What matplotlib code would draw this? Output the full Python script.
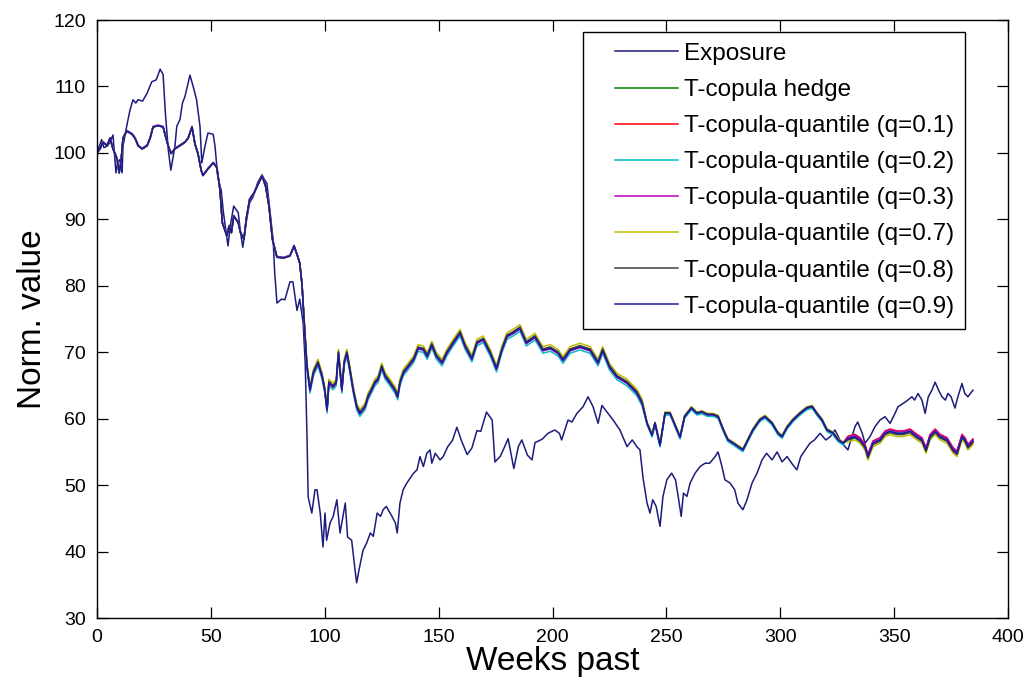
import numpy as np
import matplotlib
matplotlib.use("Agg")
import matplotlib.pyplot as plt
from matplotlib.lines import Line2D
from matplotlib.legend_handler import HandlerLine2D

plt.rcParams['font.family'] = ['Liberation Sans', 'DejaVu Sans']

# exposure (week, normalised value)
exp_wk = [0, 2, 3, 4.4, 5.5, 7, 8.3, 9, 10, 11, 11.4, 13, 14.5, 15.8, 17, 18, 20, 22, 24, 26,
          27.7, 29, 30, 31.3, 32.4, 34.2, 35, 36.4, 37.5, 38.6, 40.8, 42.2, 43.7, 45.2, 46, 47.4,
          48.7, 51, 51.8, 53, 54.5, 55.5, 56.5, 57.5, 58.5, 60, 61, 62, 63, 64, 65.7, 67, 68.5,
          70.5, 72.4, 73.5, 74.6, 76, 77.3, 78, 79, 81, 82.5, 84.7, 86, 87.8, 89, 90.5, 91.4,
          92.2, 92.7, 94.3, 95.7, 96.6, 98, 99.2, 100.1, 100.8, 102.3, 103.7, 105.3, 106.7, 108,
          109, 110, 111.8, 113.3, 114, 115, 116.8, 118.4, 120, 121.3, 123, 124.5, 125.6, 127,
          129.5, 131, 131.8, 133, 134.4, 136, 137, 139, 140.5, 141.8, 143.3, 144.8, 146.2, 147,
          148.5, 150.6, 152, 154, 156, 158, 160, 162.5, 164.6, 166.8, 168.5, 171, 173.5, 174.7,
          177, 179, 180.5, 183, 185, 186.5, 189, 191, 192.3, 195.4, 198, 201, 203, 204, 206.8,
          208.5, 210.7, 213.4, 215.6, 217.8, 220, 221.7, 224.4, 226.6, 229.6, 232.7, 235, 237,
          238.4, 239.7, 241.5, 242.8, 244, 245.5, 247.2, 248.5, 250.2, 252.3, 254, 255.4, 256.5,
          257.5, 259, 260.4, 262.6, 264.8, 267, 269, 271.4, 272.7, 274.4, 275.7, 278, 280, 281.4,
          283.6, 285.4, 287.6, 289.8, 292, 294, 296.4, 298.6, 300.8, 303, 305, 307.3, 309, 311,
          313, 315, 317.5, 320, 322, 324, 326.2, 328.4, 329.7, 331.5, 332.8, 334, 336, 337.2,
          339.4, 341.6, 343.8, 346, 348.2, 350.4, 351.7, 354, 356, 357.8, 359, 360.5, 362.2,
          363.6, 365, 366.6, 368, 369.5, 371, 372.5, 373.6, 375, 376.7, 378, 379.8, 381, 382.4,
          384.6]
exp_val = [100, 102, 100.8, 101, 101.5, 102.7, 97, 98.5, 99, 97, 101, 104, 106.5, 108, 107.5,
           108, 107.8, 109, 110.7, 111, 112.6, 111.8, 106, 100.4, 97.4, 101, 104, 105, 107.5,
           108.5, 111.7, 110, 108, 104, 98.5, 101, 103, 102.8, 101, 96.4, 94.4, 91, 88.5, 86,
           89, 92, 91.5, 91, 88, 85.8, 90, 92.5, 93.4, 95.5, 96.7, 96, 95.4, 91, 87, 82, 77.4,
           78, 77.9, 80.6, 80.6, 76.3, 78, 74.4, 68.4, 57.2, 48.2, 45.8, 49.3, 49.3, 45.8, 40.7,
           45.8, 41.7, 44.3, 45.3, 47.8, 42.8, 45.3, 47.3, 42.2, 41.7, 37.2, 35.3, 37.2, 40.2,
           41.3, 42.8, 42.3, 45.8, 45.3, 46.3, 46.8, 45.3, 44.3, 42.8, 47.3, 49.3, 50.3, 50.8,
           51.8, 52.3, 54.3, 52.8, 54.8, 55.3, 53.3, 54.8, 53.8, 54.3, 55.8, 56.7, 58.7, 56.7,
           54.6, 55.6, 58.2, 58.1, 61, 59.8, 53.5, 54.3, 55.8, 57, 52.5, 55.8, 56.8, 54.5, 53.8,
           56.4, 56.9, 57.8, 58.3, 57.8, 56.8, 59.8, 59.5, 60.8, 61.8, 63.3, 61.8, 59.3, 62,
           60.8, 59.8, 58.3, 55.8, 56.8, 55.8, 55.3, 51.2, 47.3, 45.8, 47.8, 46.8, 43.8, 48.3,
           50.8, 51.8, 50.8, 47.8, 45.3, 48.8, 48.3, 50.3, 51.8, 52.8, 53.3, 53.3, 54.3, 55,
           52.8, 50.8, 50.3, 49.3, 47.3, 46.3, 47.8, 50.3, 51.8, 53.8, 54.8, 53.8, 55, 53.5,
           54.3, 53.3, 52.3, 54.3, 55.3, 56.3, 56.8, 57.8, 56.8, 57.3, 58.3, 56.8, 55.8, 55.3,
           57.3, 58.8, 59.5, 57.8, 56.3, 57.3, 58.8, 59.8, 60.3, 59.3, 60.8, 61.8, 62.3, 62.8,
           63.3, 62.8, 63.8, 62.8, 60.8, 63.3, 64.3, 65.5, 64.3, 63.3, 62.8, 63.8, 63.3, 61.6,
           63.3, 65.3, 63.8, 63.3, 64.3]

# T-copula hedge
hedge_wk = [0, 1.3, 2.6, 4.4, 5.7, 7, 8.8, 9.7, 10.5, 11.4, 13, 15.4, 16.7, 18, 19.8, 22, 23.3,
            24.6, 26.8, 29, 30.3, 31.2, 32.5, 34.2, 36.4, 38.6, 40, 41.7, 43, 44.3, 45.7, 46.5,
            48.7, 51, 52.6, 54, 55, 56, 57, 58, 59, 60, 62, 63, 64.5, 65.5, 67, 69, 71, 72.5,
            74, 75.5, 77, 79, 82, 84.7, 86.5, 88, 89, 90, 91.4, 92.2, 93.5, 95, 97, 98.8, 100,
            101, 101.8, 103.6, 105, 106, 107.5, 108.5, 109.7, 111, 112.5, 114, 115.4, 117.7,
            119, 120.5, 122, 123.4, 125, 126.5, 128.6, 130.8, 132, 133, 134.5, 136.5, 139, 141,
            143.3, 145, 147, 149, 151.5, 153.6, 156.4, 159.4, 161.6, 164.6, 166.8, 169.6, 172.6,
            175.4, 177.8, 180, 182.7, 185.7, 188.5, 192.3, 195.8, 199, 202.4, 204.6, 207.7, 212,
            216.5, 220, 222, 225, 228.3, 232.7, 237, 239.3, 241.5, 243.7, 245, 247.2, 249.4,
            251.6, 253.8, 256, 258, 261, 263.4, 265.6, 268, 270.5, 272.7, 275, 277, 279.3,
            281.4, 283.6, 285.8, 288, 291, 293.3, 296.4, 299, 300.8, 303, 305.6, 308.7, 311.7,
            314, 316, 318.3, 320.5, 323.2, 325.4, 327.6, 329.7, 332.8, 335, 337.2, 338.5, 340.7,
            343.8, 346, 348.2, 351.3, 353.9, 357, 360, 362.2, 364, 365.8, 368, 370.2, 373.2,
            375.9, 377.6, 379.8, 381.1, 382.4, 384.6]
hedge_val = [100, 100.6, 101.6, 101.1, 102.2, 100.6, 99.1, 97, 98.6, 102.2, 103.3, 102.8, 102.2,
             101.1, 100.6, 101.1, 102.2, 103.9, 104.1, 103.9, 102.2, 101.1, 99.9, 100.6, 101.1,
             101.6, 102.2, 103.9, 101.3, 99.9, 97.4, 96.6, 97.6, 98.5, 97.8, 94.4, 89.5, 88.5,
             87.5, 89, 88, 90.5, 89.5, 88, 87, 90, 93, 94, 95.5, 96.5, 95, 92, 87, 84.3, 84.2,
             84.5, 86, 84.5, 83.4, 80.2, 72, 67.8, 64.3, 66.9, 68.4, 66.4, 64.3, 61.3, 65.4,
             64.8, 65.4, 69.9, 64.3, 68.4, 69.9, 67.4, 64.3, 61.8, 60.8, 61.8, 63.3, 64.3, 65.4,
             65.9, 67.8, 66.4, 65.4, 64.3, 63.3, 65.4, 66.9, 67.8, 68.9, 70.6, 70.4, 69.4, 71.1,
             69.4, 68.4, 69.9, 71.4, 72.9, 70.9, 69, 71.4, 71.9, 69.9, 67.5, 70.4, 72.4, 72.9,
             73.6, 71.4, 72.3, 70.3, 70.6, 69.9, 68.8, 70.3, 70.8, 70.3, 68.4, 70.3, 67.8, 66.3,
             65.4, 63.9, 62.4, 59.3, 57.5, 59.3, 56, 60.8, 60.8, 59, 57.2, 60.3, 61.6, 60.8, 61,
             60.6, 60.6, 60.3, 58.3, 56.8, 56.3, 55.8, 55.3, 56.8, 58.3, 59.8, 60.3, 59.3, 57.8,
             57.3, 58.7, 59.8, 60.8, 61.6, 61.8, 60.8, 59.8, 58.3, 57.8, 56.8, 56.3, 57, 57.3,
             56.8, 55.8, 54.3, 56.3, 56.8, 57.8, 58.1, 57.8, 57.8, 58.1, 57.3, 56.8, 55.3, 57.3,
             58.1, 57.3, 56.8, 55.3, 54.8, 57.3, 56.8, 55.8, 56.6]

# quantile hedges sit on the T-copula hedge; small shift per period
period_edges = [0, 91, 240, 328]
quantiles = ['0.1', '0.2', '0.3', '0.7', '0.8', '0.9']
q_shift = {
    '0.1': [0.0, 0.0, 0.1, 0.35],
    '0.2': [0.0, -0.45, -0.25, 0.1],
    '0.3': [0.1, -0.1, 0.0, 0.25],
    '0.7': [0.0, 0.55, 0.2, -0.5],
    '0.8': [0.0, 0.2, 0.1, -0.2],
    '0.9': [0.0, 0.0, 0.0, 0.0],
}

exp_color = '#1c1c7c'
hedge_color = (0, 0.5, 0)
q_colors = ['#ff0000', (0, 0.75, 0.75), (0.75, 0, 0.75), (0.75, 0.75, 0), (0.25, 0.25, 0.25), '#1a1aa0']

fig = plt.figure(figsize=(10.27, 6.9), dpi=100)
ax = fig.add_axes([0.0945, 0.1043, 0.887, 0.8667])

lw = 1.1
ax.plot(exp_wk, exp_val, color=exp_color, lw=lw, label='Exposure')
ax.plot(hedge_wk, hedge_val, color=hedge_color, lw=lw, label='T-copula hedge')

hw = np.array(hedge_wk)
hv = np.array(hedge_val)
period = np.searchsorted(period_edges, hw, side='right') - 1
for q, c in zip(quantiles, q_colors):
    shift = np.array(q_shift[q])[period]
    ax.plot(hw, hv + shift, color=c, lw=lw, label='T-copula-quantile (q=%s)' % q)

ax.set_xlim(0, 400)
ax.set_ylim(30, 120)
ax.set_xticks(np.arange(0, 401, 50))
ax.set_yticks(np.arange(30, 121, 10))
ax.tick_params(direction='in', length=8, width=0.9, top=True, right=True,
               labelsize=14, pad=8)
for s in ax.spines.values():
    s.set_linewidth(1.0)

ax.set_xlabel('Weeks past', fontsize=24, labelpad=0)
ax.set_ylabel('Norm. value', fontsize=24, labelpad=4)

leg = ax.legend(loc='upper right', bbox_to_anchor=(0.9528, 0.98), borderaxespad=0,
                fontsize=17.5, fancybox=False, framealpha=1, edgecolor='black',
                handlelength=4.3, handletextpad=-0.6, labelspacing=0.58, borderpad=0.45,
                handler_map={Line2D: HandlerLine2D(numpoints=2, marker_pad=0.86)})
leg.get_frame().set_linewidth(1.0)

fig.savefig('out.png', dpi=100)
